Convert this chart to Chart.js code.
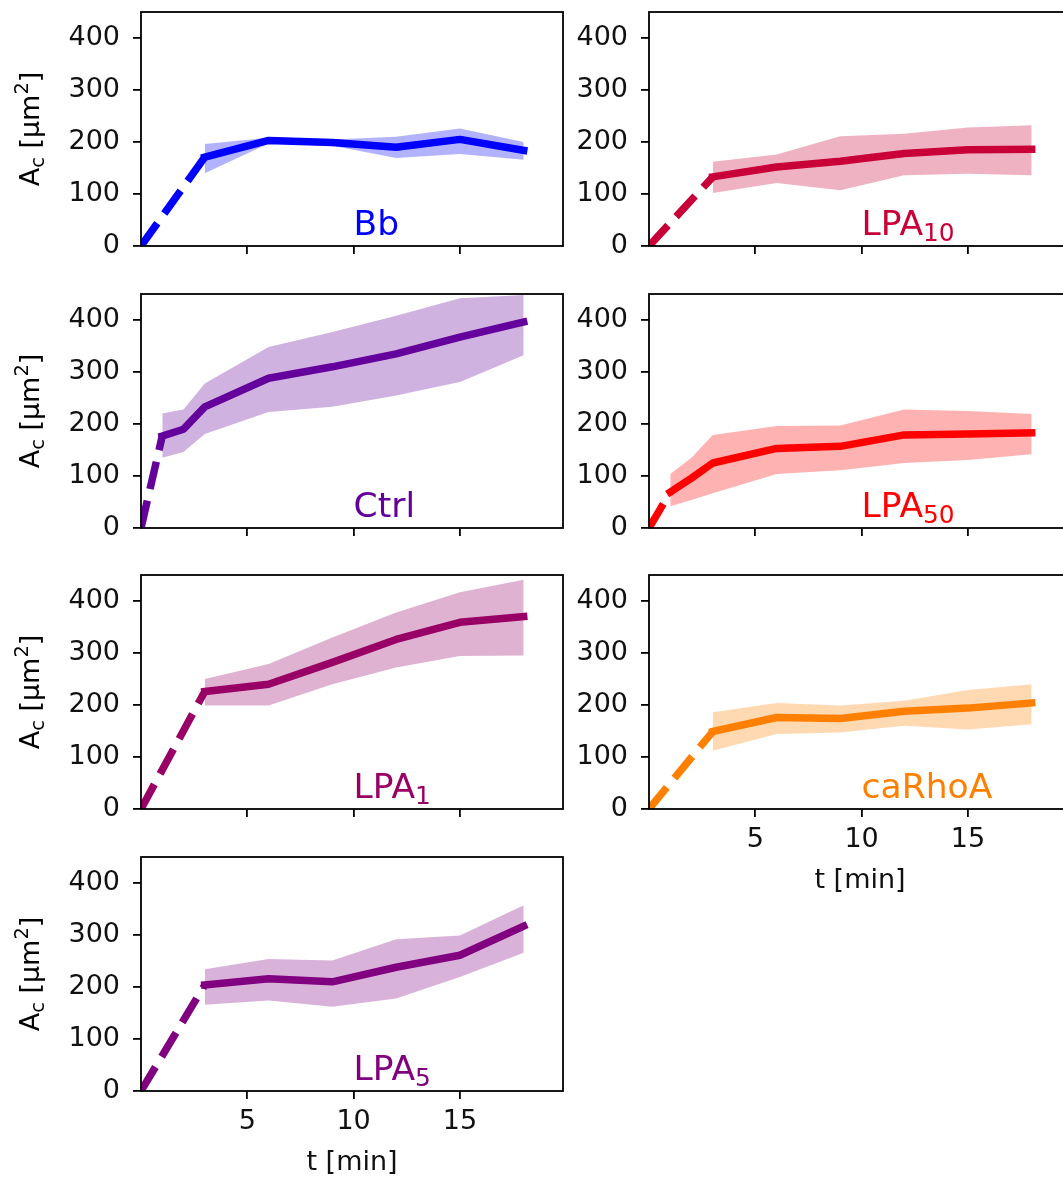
<!DOCTYPE html>
<html>
<head>
<meta charset="utf-8">
<script src="https://cdn.jsdelivr.net/npm/chart.js@4.4.1/dist/chart.umd.min.js"></script>
<style>
  html, body { margin: 0; padding: 0; background: #fff; overflow: hidden; width: 1063px; height: 1180px; }
  canvas { position: absolute; }
</style>
</head>
<body>
<script>
// ---- data: time [min] and cell area [um^2], mean with upper/lower band ----
const xTicks = [5, 10, 15];
const yTicks = [0, 100, 200, 300, 400];

const timeBb  = [3, 6, 9, 12, 15, 18];
const meanBb  = [171, 203, 199, 190, 205, 184];
const upperBb = [196, 208, 205, 210, 226, 200];
const lowerBb = [140, 197, 193, 169, 177, 166];

const timeLpa10  = [3, 6, 9, 12, 15, 18];
const meanLpa10  = [133, 152, 163, 178, 185, 186];
const upperLpa10 = [162, 176, 211, 216, 228, 232];
const lowerLpa10 = [102, 121, 107, 136, 139, 136];

const timeCtrl  = [1, 2, 3, 6, 9, 12, 15, 18];
const meanCtrl  = [177, 190, 233, 288, 310, 335, 367, 396];
const upperCtrl = [220, 228, 278, 348, 377, 408, 442, 448];
const lowerCtrl = [135, 146, 181, 223, 233, 255, 281, 332];

const timeLpa50  = [1, 2, 3, 6, 9, 12, 15, 18];
const meanLpa50  = [69, 96, 125, 153, 157, 179, 181, 183];
const upperLpa50 = [104, 135, 179, 196, 197, 228, 225, 219];
const lowerLpa50 = [42, 54, 67, 104, 111, 125, 131, 142];

const timeLpa1  = [3, 6, 9, 12, 15, 18];
const meanLpa1  = [226, 240, 282, 326, 359, 370];
const upperLpa1 = [250, 279, 330, 378, 417, 441];
const lowerLpa1 = [199, 199, 240, 272, 294, 295];

const timeRho  = [3, 6, 9, 12, 15, 18];
const meanRho  = [149, 176, 174, 188, 194, 204];
const upperRho = [186, 204, 199, 208, 229, 240];
const lowerRho = [112, 144, 147, 160, 153, 163];

const timeLpa5  = [3, 6, 9, 12, 15, 18];
const meanLpa5  = [204, 216, 210, 238, 261, 317];
const upperLpa5 = [234, 254, 251, 292, 299, 357];
const lowerLpa5 = [166, 174, 162, 178, 219, 266];

// extrapolation start of the dashed part
const startTime = 0;
const startArea = 0;

const labelNames = ['Bb', 'LPA', 'Ctrl', 'LPA', 'LPA', 'caRhoA', 'LPA'];
const labelSubs  = ['', '10', '', '50', '1', '', '5'];

// ---- layout / style ----
const PLOT_W = 422, PLOT_H = 234;
const Y_AXIS_W = 141, PAD_T = 30, PAD_R = 10, PAD_B = 20;
const X_AXIS_H = 10, X_AXIS_H_LABELS = 88;
const colLeft = [141, 649];
const rowTop = [12, 294, 575, 857];
const FONT = '"DejaVu Sans", "Liberation Sans", sans-serif';
const TICK_SIZE = 27, LABEL_SIZE = 34.5;

const panels = [
  { time: timeBb, mean: meanBb, upper: upperBb, lower: lowerBb, col: 0, row: 0, rgb: [0, 0, 255] },
  { time: timeLpa10, mean: meanLpa10, upper: upperLpa10, lower: lowerLpa10, col: 1, row: 0, rgb: [200, 0, 55] },
  { time: timeCtrl, mean: meanCtrl, upper: upperCtrl, lower: lowerCtrl, col: 0, row: 1, rgb: [100, 0, 155] },
  { time: timeLpa50, mean: meanLpa50, upper: upperLpa50, lower: lowerLpa50, col: 1, row: 1, rgb: [255, 0, 0] },
  { time: timeLpa1, mean: meanLpa1, upper: upperLpa1, lower: lowerLpa1, col: 0, row: 2, rgb: [153, 0, 102] },
  { time: timeRho, mean: meanRho, upper: upperRho, lower: lowerRho, col: 1, row: 2, rgb: [255, 128, 0], xLabels: true },
  { time: timeLpa5, mean: meanLpa5, upper: upperLpa5, lower: lowerLpa5, col: 0, row: 3, rgb: [128, 0, 128], xLabels: true }
];

// text with sub/superscripts, shift in em (positive = down)
function richWidth(ctx, segs, size) {
  let w = 0;
  segs.forEach(s => {
    ctx.font = (s.shift ? size * 0.72 : size) + 'px ' + FONT;
    w += ctx.measureText(s.text).width;
  });
  return w;
}
function drawRich(ctx, segs, x, y, size) {
  let cx = x;
  ctx.textAlign = 'left';
  ctx.textBaseline = 'alphabetic';
  segs.forEach(s => {
    const fs = s.shift ? size * 0.72 : size;
    ctx.font = fs + 'px ' + FONT;
    ctx.fillText(s.text, cx, y + (s.shift || 0) * size);
    cx += ctx.measureText(s.text).width;
  });
}

const yTitleSegs = [
  { text: 'A' }, { text: 'c', shift: 0.2 }, { text: ' [μm' }, { text: '2', shift: -0.4 }, { text: ']' }
];

// frame, panel label and y title
function makeDecor(color, label, yTitle) {
  return {
    id: 'panelDecor',
    afterDatasetsDraw(chart) {
      const { ctx, chartArea: a, scales } = chart;
      ctx.save();
      ctx.strokeStyle = '#000';
      ctx.lineWidth = 1.8;
      ctx.strokeRect(a.left, a.top, a.right - a.left, a.bottom - a.top);

      ctx.fillStyle = color;
      drawRich(ctx, label, scales.x.getPixelForValue(10), scales.y.getPixelForValue(21), LABEL_SIZE);

      if (yTitle) {
        ctx.fillStyle = '#000';
        const w = richWidth(ctx, yTitleSegs, TICK_SIZE);
        ctx.translate(a.left - Y_AXIS_W + 39, (a.top + a.bottom) / 2);
        ctx.rotate(-Math.PI / 2);
        drawRich(ctx, yTitleSegs, -w / 2, 0, TICK_SIZE);
      }
      ctx.restore();
    }
  };
}

panels.forEach((p, i) => {
  const showX = !!p.xLabels;
  const canvas = document.createElement('canvas');
  const w = Y_AXIS_W + PLOT_W + PAD_R;
  const h = PAD_T + PLOT_H + (showX ? X_AXIS_H_LABELS : X_AXIS_H + PAD_B);
  canvas.width = w;
  canvas.height = h;
  canvas.style.width = w + 'px';
  canvas.style.height = h + 'px';
  canvas.style.left = (colLeft[p.col] - Y_AXIS_W) + 'px';
  canvas.style.top = (rowTop[p.row] - PAD_T) + 'px';
  document.body.appendChild(canvas);

  const rgb = p.rgb.join(',');
  const line = 'rgb(' + rgb + ')';
  const band = 'rgba(' + rgb + ',0.3)';
  const pts = arr => p.time.map((t, k) => ({ x: t, y: arr[k] }));

  const label = [{ text: labelNames[i] }];
  if (labelSubs[i]) label.push({ text: labelSubs[i], shift: 0.17 });

  new Chart(canvas, {
    type: 'line',
    data: {
      datasets: [
        { data: pts(p.mean), borderColor: line, borderWidth: 7.5, pointRadius: 0, tension: 0,
          borderJoinStyle: 'round', borderCapStyle: 'square', clip: 0, fill: false },
        { data: [{ x: startTime, y: startArea }, { x: p.time[0], y: p.mean[0] }],
          borderColor: line, borderWidth: 7.5, borderDash: [28, 12], pointRadius: 0,
          borderCapStyle: 'butt', clip: 0, fill: false },
        { data: pts(p.upper), borderWidth: 0, borderColor: 'rgba(0,0,0,0)', pointRadius: 0,
          backgroundColor: band, fill: '+1', clip: 0 },
        { data: pts(p.lower), borderWidth: 0, borderColor: 'rgba(0,0,0,0)', pointRadius: 0,
          fill: false, clip: 0 }
      ]
    },
    options: {
      responsive: false,
      animation: false,
      devicePixelRatio: 1,
      events: [],
      layout: { padding: { top: PAD_T, right: PAD_R, bottom: showX ? 0 : PAD_B, left: 0 } },
      plugins: {
        legend: { display: false },
        tooltip: { enabled: false }
      },
      scales: {
        x: {
          type: 'linear', min: 0, max: 19.85,
          afterBuildTicks: s => { s.ticks = xTicks.map(v => ({ value: v })); },
          afterFit: s => { s.height = showX ? X_AXIS_H_LABELS : X_AXIS_H; },
          grid: { drawOnChartArea: false, drawTicks: true, tickLength: 8, color: '#000', lineWidth: 1.8 },
          border: { display: false },
          ticks: { display: showX, color: '#111', padding: 7, maxRotation: 0,
                   font: { family: FONT, size: TICK_SIZE } },
          title: { display: showX, text: 't [min]', color: '#111', padding: { top: 0, bottom: 0 },
                   font: { family: FONT, size: TICK_SIZE } }
        },
        y: {
          type: 'linear', min: 0, max: 450,
          afterBuildTicks: s => { s.ticks = yTicks.map(v => ({ value: v })); },
          afterFit: s => { s.width = Y_AXIS_W; },
          grid: { drawOnChartArea: false, drawTicks: true, tickLength: 8, color: '#000', lineWidth: 1.8 },
          border: { display: false },
          ticks: { color: '#111', padding: 13, font: { family: FONT, size: TICK_SIZE } }
        }
      }
    },
    plugins: [makeDecor(line, label, p.col === 0)]
  });
});
</script>
</body>
</html>
